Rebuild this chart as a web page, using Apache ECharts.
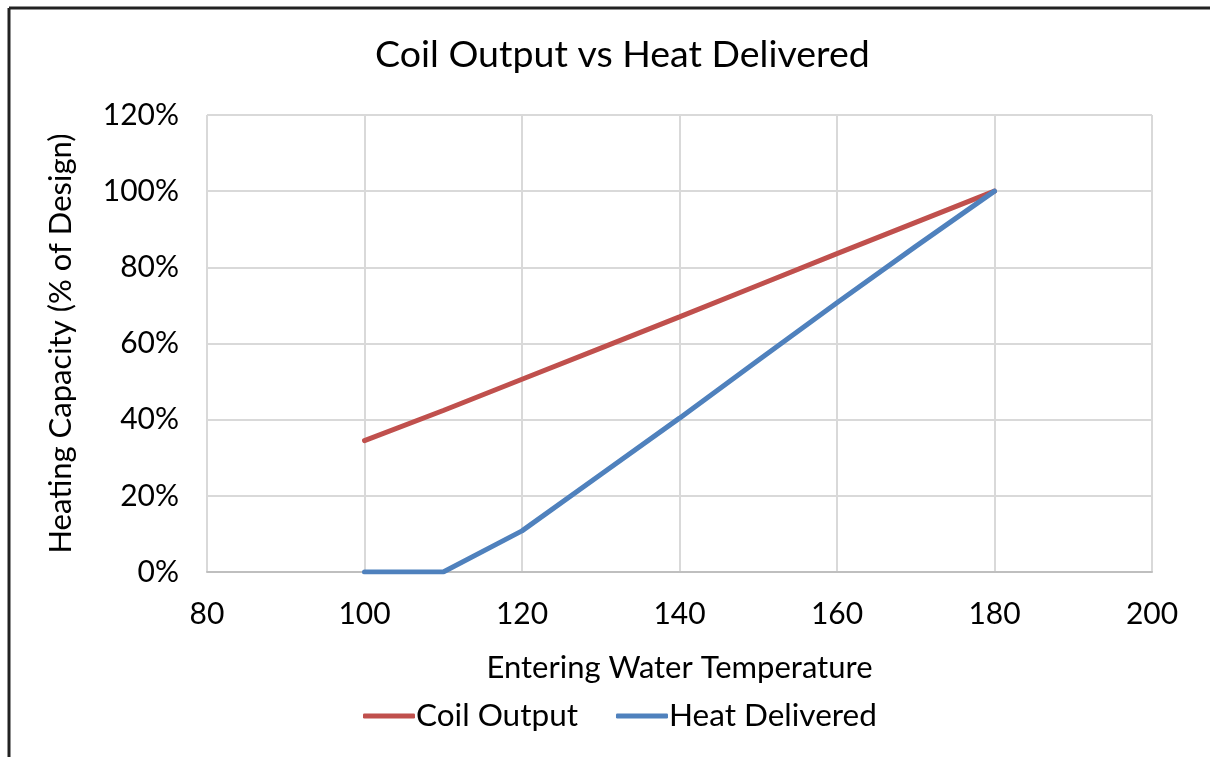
<!DOCTYPE html>
<html>
<head>
<meta charset="utf-8">
<script src="https://cdn.jsdelivr.net/npm/echarts@6/dist/echarts.min.js"></script>
<style>
html,body{margin:0;padding:0;background:#fff;}
#chart{width:1210px;height:757px;}
</style>
</head>
<body>
<div id="chart"></div>
<script>
const temperatures = [100, 110, 120, 130, 140, 150, 160, 170, 180];
const coilOutput = [34.5, 42.4, 50.6, 58.8, 67.0, 75.3, 83.6, 91.8, 100];
const heatDelivered = [0, 0, 10.8, 25.6, 40.4, 55.6, 70.7, 85.5, 100];
const seriesNames = ['Coil Output', 'Heat Delivered'];
const titleText = 'Coil Output vs Heat Delivered';
const xAxisName = 'Entering Water Temperature';
const yAxisName = 'Heating Capacity (% of Design)';

const FONT = 'Lato, "Open Sans", sans-serif';
const chart = echarts.init(document.getElementById('chart'));
chart.setOption({
  animation: false,
  backgroundColor: '#fff',
  textStyle: { fontFamily: FONT },
  title: {
    text: titleText, left: 370, top: 31,
    textStyle: { fontFamily: FONT, fontSize: 37.5, fontWeight: 'normal', color: '#000' }
  },
  legend: {
    bottom: 20, left: 358, itemWidth: 52, itemHeight: 5, itemGap: 38,
    icon: 'roundRect',
    textStyle: { fontFamily: FONT, fontSize: 31.5, color: '#000', padding: [0, 0, 0, -4] },
    data: seriesNames
  },
  grid: { left: 207, right: 58, top: 115, bottom: 185, containLabel: false },
  xAxis: {
    type: 'value', min: 80, max: 200, interval: 20,
    name: xAxisName, nameLocation: 'middle', nameGap: 80,
    nameTextStyle: { fontFamily: FONT, fontSize: 31, color: '#000' },
    axisLine: { show: true, lineStyle: { color: '#bfbfbf', width: 2 } },
    axisTick: { show: false },
    axisLabel: { fontFamily: FONT, fontSize: 30, color: '#000', margin: 27 },
    splitLine: { show: true, lineStyle: { color: '#d9d9d9', width: 2 } }
  },
  yAxis: {
    type: 'value', min: 0, max: 120, interval: 20,
    name: yAxisName, nameLocation: 'middle', nameGap: 131, nameRotate: 90,
    nameTextStyle: { fontFamily: FONT, fontSize: 31, color: '#000' },
    axisLine: { show: false },
    axisTick: { show: false },
    axisLabel: { fontFamily: FONT, fontSize: 30, color: '#000', margin: 28, formatter: v => v + '%' },
    splitLine: { show: true, lineStyle: { color: '#d9d9d9', width: 2 } }
  },
  series: [
    {
      name: seriesNames[0], type: 'line', symbol: 'none',
      data: temperatures.map((t, i) => [t, coilOutput[i]]),
      lineStyle: { color: '#c0504d', width: 5, cap: 'round' },
      itemStyle: { color: '#c0504d' }
    },
    {
      name: seriesNames[1], type: 'line', symbol: 'none',
      data: temperatures.map((t, i) => [t, heatDelivered[i]]),
      lineStyle: { color: '#4f81bd', width: 5, cap: 'round' },
      itemStyle: { color: '#4f81bd' }
    }
  ],
  graphic: [
    { type: 'line', shape: { x1: 9, y1: 8, x2: 1210, y2: 8 }, style: { stroke: '#222', lineWidth: 3 } },
    { type: 'line', shape: { x1: 9, y1: 8, x2: 9, y2: 757 }, style: { stroke: '#222', lineWidth: 3 } }
  ]
});
</script>
</body>
</html>
